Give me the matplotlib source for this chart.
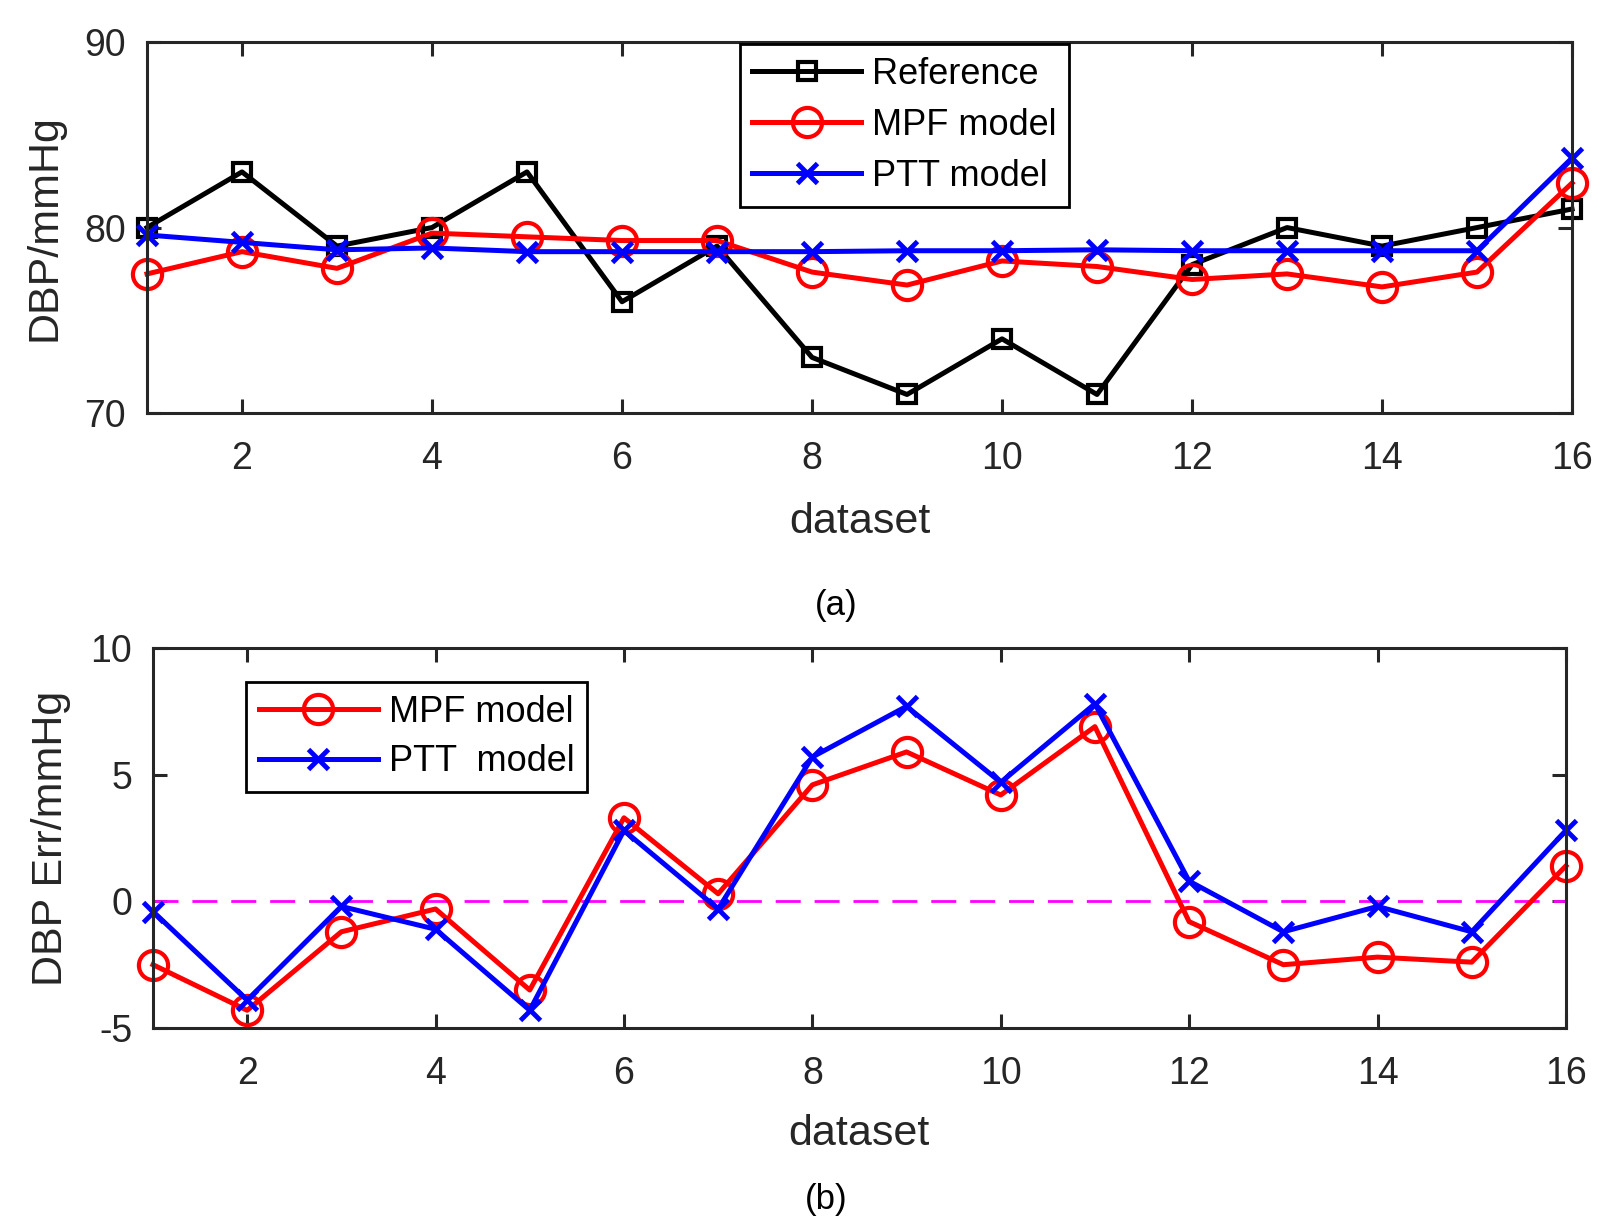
import numpy as np
import matplotlib
matplotlib.use('Agg')
import matplotlib.pyplot as plt

plt.rcParams['font.family'] = ['Liberation Sans', 'DejaVu Sans']
plt.rcParams['axes.unicode_minus'] = False

# dataset index
dataset = np.arange(1, 17)

# DBP values (mmHg)
reference = [80, 83, 79, 80, 83, 76, 79, 73, 71, 74, 71, 78, 80, 79, 80, 81]
mpf_model = [77.5, 78.7, 77.8, 79.7, 79.5, 79.3, 79.3, 77.6, 76.9, 78.2, 77.9, 77.2, 77.5, 76.8, 77.6, 82.4]
ptt_model = [79.6, 79.2, 78.8, 78.9, 78.7, 78.7, 78.7, 78.7, 78.75, 78.75, 78.8, 78.75, 78.75, 78.75, 78.75, 83.75]

# DBP errors (mmHg)
mpf_err = [-2.5, -4.3, -1.2, -0.3, -3.5, 3.3, 0.3, 4.6, 5.9, 4.2, 6.9, -0.8, -2.5, -2.2, -2.4, 1.4]
ptt_err = [-0.4, -3.9, -0.2, -1.1, -4.3, 2.8, -0.3, 5.7, 7.7, 4.7, 7.8, 0.8, -1.2, -0.2, -1.2, 2.8]

xticks = [2, 4, 6, 8, 10, 12, 14, 16]

fig = plt.figure(figsize=(16.17, 12.3), dpi=100)
ax1 = fig.add_axes([0.0909, 0.6642, 0.8813, 0.3016])
ax2 = fig.add_axes([0.0946, 0.1642, 0.8738, 0.3089])

lw = 3.6
spine_c = '#262626'

def style(ax):
    for s in ax.spines.values():
        s.set_linewidth(2.2)
        s.set_color(spine_c)
    ax.tick_params(direction='in', length=10, width=2.2, color=spine_c,
                   labelsize=27, top=True, right=True, labelcolor='#262626')
    ax.tick_params(axis='x', pad=20)
    ax.tick_params(axis='y', pad=15)
    ax.set_xlim(1, 16)
    ax.set_xticks(xticks)

# (a)
ax1.plot(dataset, reference, color='black', lw=lw, marker='s', ms=13, mfc='none', mew=3,
         label='Reference', clip_on=False)
ax1.plot(dataset, mpf_model, color='red', lw=lw, marker='o', ms=21, mfc='none', mew=3,
         label='MPF model', clip_on=False)
ax1.plot(dataset, ptt_model, color='blue', lw=lw, marker='x', ms=15, mew=3.5,
         label='PTT model', clip_on=False)
ax1.set_ylim(70, 90)
ax1.set_yticks([70, 80, 90])
style(ax1)
ax1.set_xlabel('dataset', fontsize=31, color='#262626', labelpad=18)
ax1.set_ylabel('DBP/mmHg', fontsize=31, color='#262626', labelpad=14)
leg1 = ax1.legend(loc='upper left', bbox_to_anchor=(0.416, 0.995), fontsize=26,
                  fancybox=False, framealpha=1, edgecolor='black', handlelength=3.0,
                  borderpad=0.35, labelspacing=0.45, handletextpad=0.3, borderaxespad=0)
leg1.get_frame().set_linewidth(2)

# (b)
ax2.axhline(0, color='magenta', lw=2, dashes=(9, 5))
ax2.plot(dataset, mpf_err, color='red', lw=lw, marker='o', ms=21, mfc='none', mew=3,
         label='MPF model', clip_on=False)
ax2.plot(dataset, ptt_err, color='blue', lw=lw, marker='x', ms=15, mew=3.5,
         label='PTT  model', clip_on=False)
ax2.set_ylim(-5, 10)
ax2.set_yticks([-5, 0, 5, 10])
style(ax2)
ax2.set_xlabel('dataset', fontsize=31, color='#262626', labelpad=16)
ax2.set_ylabel('DBP Err/mmHg', fontsize=31, color='#262626', labelpad=14)
leg2 = ax2.legend(loc='upper left', bbox_to_anchor=(0.066, 0.91), fontsize=26,
                  fancybox=False, framealpha=1, edgecolor='black', handlelength=3.3,
                  borderpad=0.35, labelspacing=0.4, handletextpad=0.3, borderaxespad=0)
leg2.get_frame().set_linewidth(2)

fig.text(0.517, 1 - 606 / 1230, '(a)', ha='center', va='center', fontsize=25)
fig.text(0.511, 1 - 1200 / 1230, '(b)', ha='center', va='center', fontsize=25)

fig.savefig('out.png', dpi=100)
